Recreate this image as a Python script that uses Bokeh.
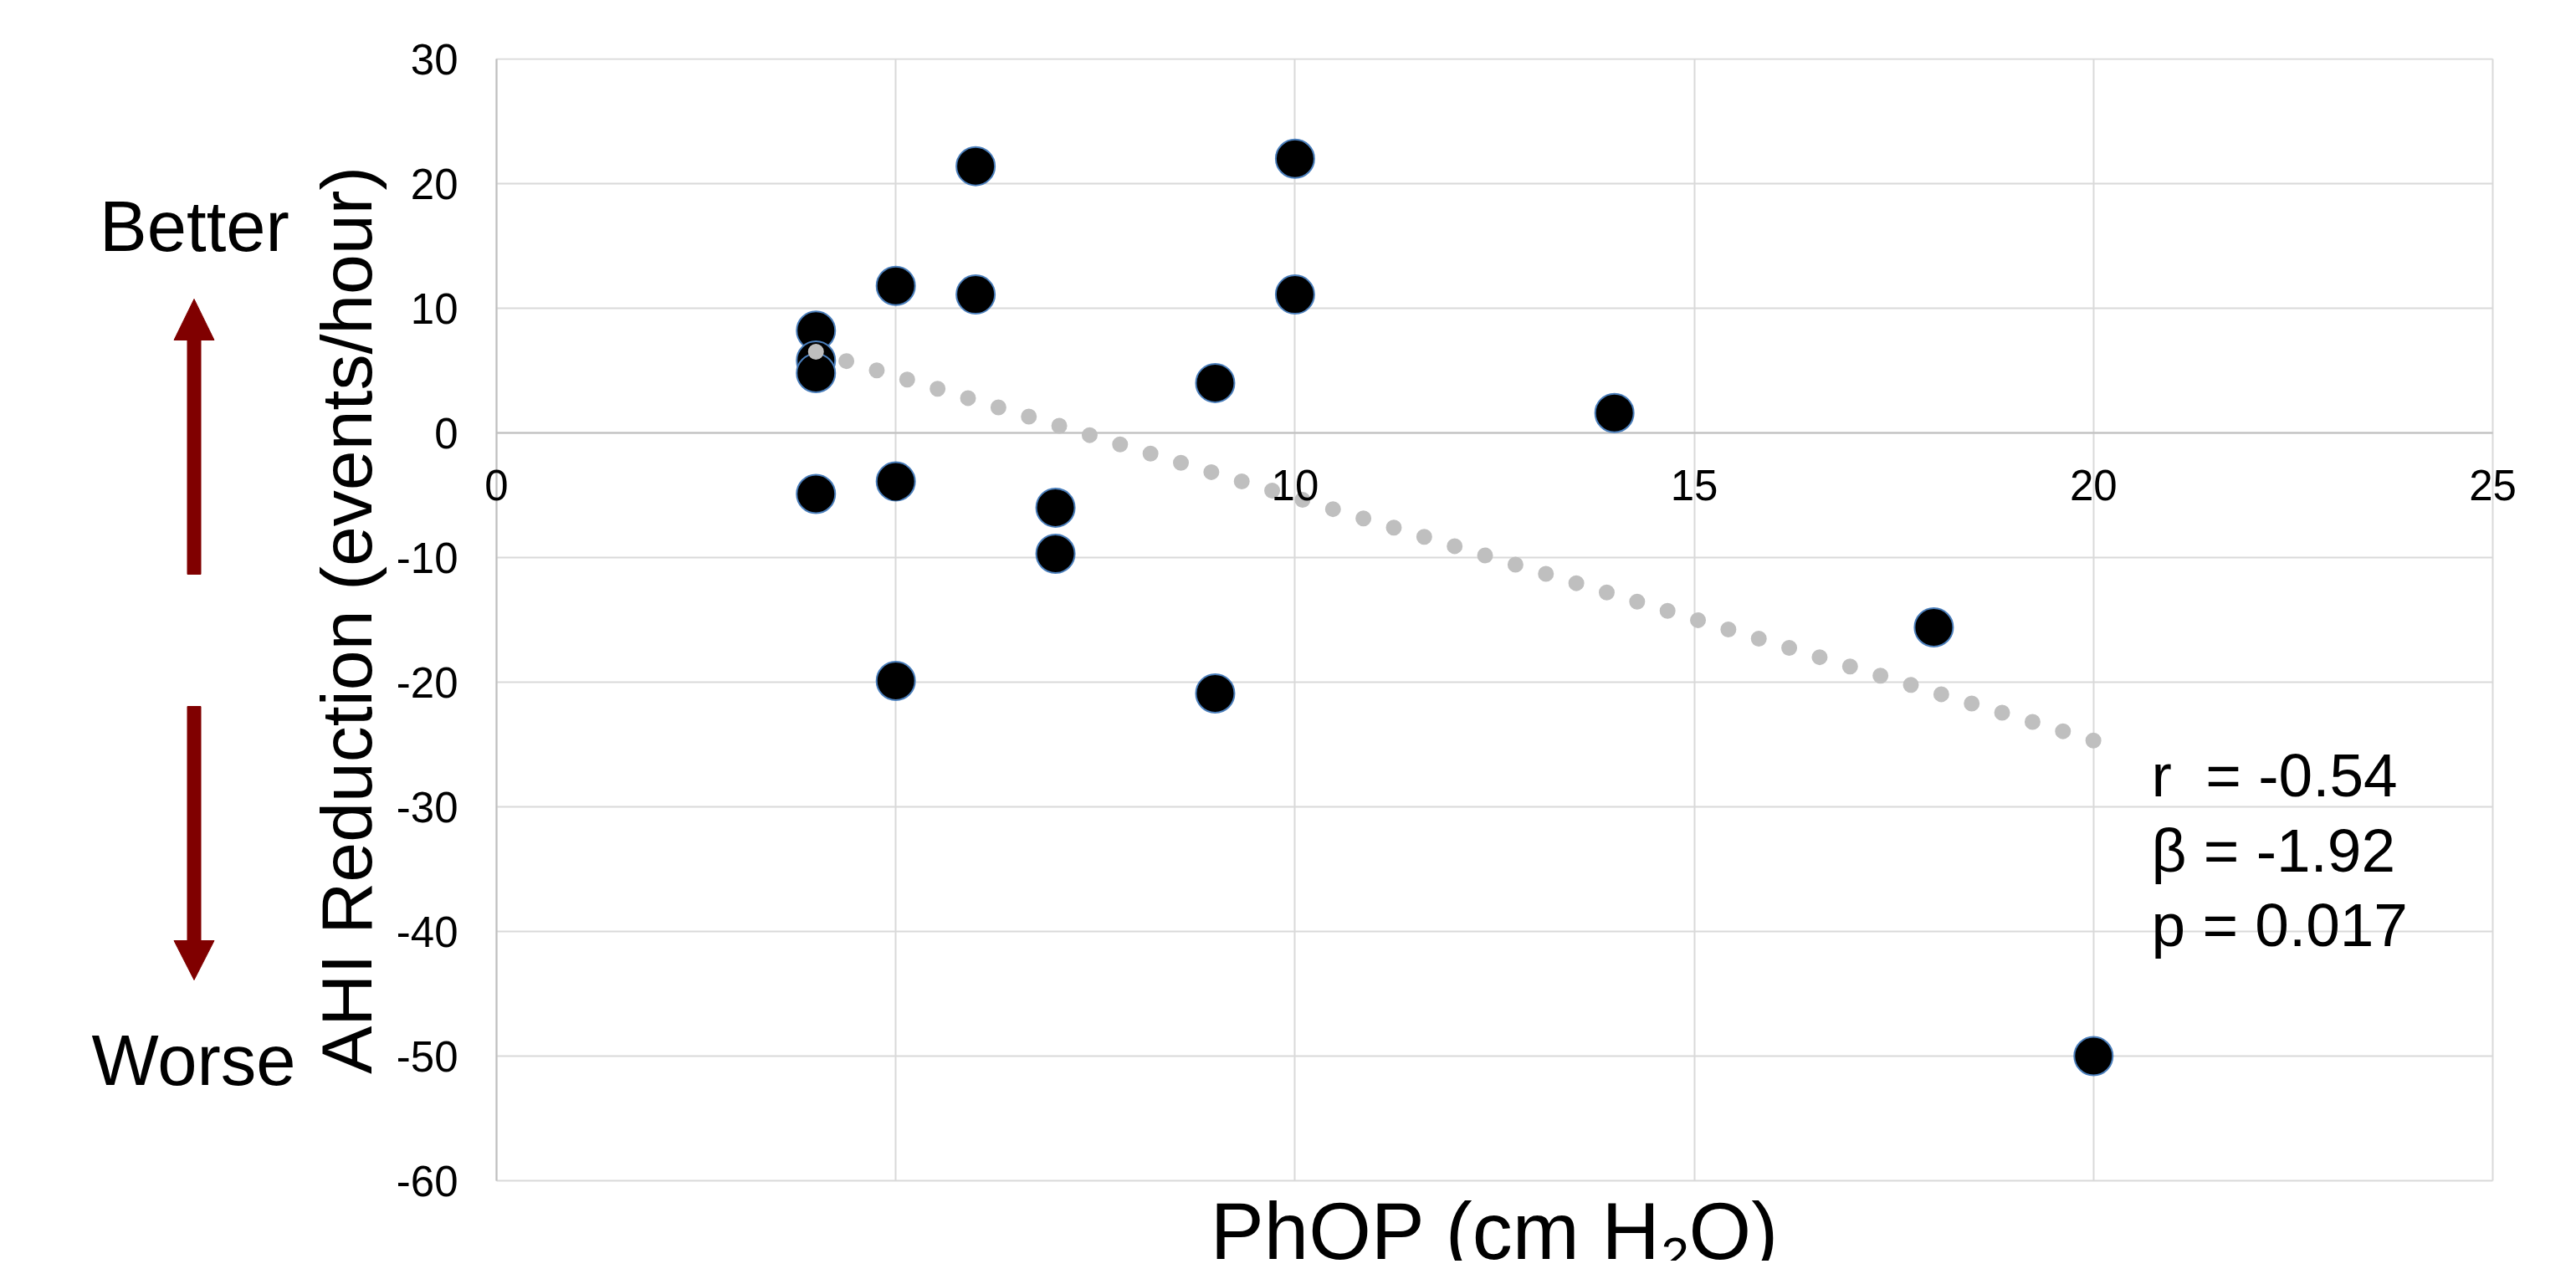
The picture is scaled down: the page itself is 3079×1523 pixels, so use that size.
import math
import numpy as np
from bokeh.plotting import figure
from bokeh.layouts import row
from bokeh.models import Range1d, FixedTicker, Label, Grid
from bokeh.embed import file_html
from bokeh.resources import INLINE

# ---- data ----
phop = [4, 4, 4, 4, 5, 5, 5, 6, 6, 7, 7, 9, 9, 10, 10, 14, 18, 20]
ahi_reduction = [8.2, 5.8, 4.8, -4.9, 11.8, -3.9, -19.9, 21.4, 11.1, -6.0, -9.7,
                 4.0, -20.9, 22.0, 11.1, 1.6, -15.6, -50.0]
x_ticks = [0, 5, 10, 15, 20, 25]
y_ticks = [-60, -50, -40, -30, -20, -10, 0, 10, 20, 30]
stats_lines = ["r \u00a0= -0.54", "\u03b2 = -1.92", "p = 0.017"]
y_title = "AHI Reduction (events/hour)"
x_title_parts = ["PhOP (cm H", "2", "O)"]
side_labels = ["Better", "Worse"]

FONT = "Liberation Sans"
GRID = "#D9D9D9"
AXIS = "#BFBFBF"
ARROW = "#800000"
MID = 0.365   # baseline lies this many em below a "middle"-anchored label

# page geometry in picture pixels
W, H = 3063, 1507
SPLIT_X = 467          # left strip (side labels, y title) | main chart
FL, FR, FT, FB = 593, 2979, 70, 1411   # where x=0, x=25, y=30, y=-60 fall
XMIN, XMAX, YMIN, YMAX = 0, 25, -60, 30


def X(px):
    return XMIN + (px - FL) / (FR - FL) * (XMAX - XMIN)


def Y(py):
    return YMAX - (py - FT) / (FB - FT) * (YMAX - YMIN)


def text_label(x, text, size, align="left", **kw):
    return dict(x=x, text=text, text_font=FONT, text_font_size=f"{size}px",
                text_color="black", text_align=align, text_baseline="middle", **kw)


# ---------------- main chart ----------------
MF_L, MF_R, MF_T, MF_B = 560, 3012, 69, H
p = figure(width=W - SPLIT_X, height=H,
           x_range=Range1d(X(MF_L), X(MF_R)), y_range=Range1d(Y(MF_B), Y(MF_T)),
           output_backend="svg", toolbar_location=None, title=None,
           x_axis_location=None,
           min_border_left=MF_L - SPLIT_X, min_border_right=W - MF_R,
           min_border_top=MF_T, min_border_bottom=0)
p.outline_line_color = None
p.background_fill_color = "white"
p.border_fill_color = "white"

p.xgrid.ticker = FixedTicker(ticks=x_ticks)
p.ygrid.ticker = FixedTicker(ticks=y_ticks)
p.ygrid.cross_bounds = (XMIN, XMAX)
p.xgrid.cross_bounds = (YMIN, YMAX)
for g in (p.xgrid, p.ygrid):
    g.grid_line_color = GRID
    g.grid_line_width = 2
# axis lines (x = 0 and y = 0)
p.add_layout(Grid(dimension=0, ticker=FixedTicker(ticks=[XMIN]), cross_bounds=(YMIN, YMAX),
                  grid_line_color=AXIS, grid_line_width=2))
p.add_layout(Grid(dimension=1, ticker=FixedTicker(ticks=[0]), cross_bounds=(XMIN, XMAX),
                  grid_line_color=AXIS, grid_line_width=2))

ya = p.yaxis[0]
ya.ticker = FixedTicker(ticks=y_ticks)
ya.major_label_overrides = {t: str(t) for t in y_ticks}
ya.axis_line_color = None
ya.major_tick_in = 0
ya.major_tick_out = 0
ya.minor_tick_line_color = None
ya.major_label_standoff = MF_L - 547
ya.major_label_text_font = FONT
ya.major_label_text_font_size = "51px"
ya.major_label_text_color = "black"

# x tick labels, just below the y = 0 line
for t in x_ticks:
    p.add_layout(Label(x=t, y=Y(579), text=str(t), text_font=FONT,
                       text_font_size="51px", text_color="black",
                       text_align="center", text_baseline="middle"))

# points
p.scatter(phop, ahi_reduction, size=46, fill_color="black",
          line_color="#4A7EBB", line_width=2)

# linear trend line (least squares on the data)
slope, intercept = np.polyfit(phop, ahi_reduction, 1)
tx = [min(phop), max(phop)]
ty = [intercept + slope * v for v in tx]
p.line(tx, ty, line_color=AXIS, line_width=19, line_dash="0 38", line_cap="round")

# stats text
for i, s in enumerate(stats_lines):
    base = 953 + i * 89.5
    p.add_layout(Label(y=Y(base - MID * 73), **text_label(X(2571), s, 73)))

# x axis title (with subscript)
p.add_layout(Label(y=Y(1506 - MID * 96), **text_label(X(1985), x_title_parts[0], 96, "right")))
p.add_layout(Label(y=Y(1522 - MID * 60), **text_label(X(1985), x_title_parts[1], 60)))
p.add_layout(Label(y=Y(1506 - MID * 96), **text_label(X(2018), x_title_parts[2], 96)))

# ---------------- left strip (same top border as the main chart) ----------------
left = figure(width=SPLIT_X, height=H, x_range=Range1d(0, SPLIT_X),
              y_range=Range1d(H, MF_T), output_backend="svg", toolbar_location=None,
              title=None, x_axis_location=None, y_axis_location=None,
              min_border_left=0, min_border_right=0, min_border_top=MF_T,
              min_border_bottom=0)
left.outline_line_color = None
left.background_fill_color = "white"
left.border_fill_color = "white"
left.xgrid.visible = False
left.ygrid.visible = False

left.add_layout(Label(x=445 - MID * 86, y=741, text=y_title, angle=math.pi / 2,
                      text_font=FONT, text_font_size="86px", text_color="black",
                      text_align="center", text_baseline="middle"))
left.add_layout(Label(y=301 - MID * 85, **text_label(232, side_labels[0], 85, "center")))
left.add_layout(Label(y=1298 - MID * 85, **text_label(231, side_labels[1], 85, "center")))


def arrow_shape(cx, y_tail, y_base, y_tip, shaft=8, head=24):
    xs = [cx - shaft, cx - shaft, cx - head, cx, cx + head, cx + shaft, cx + shaft]
    ys = [y_tail, y_base, y_base, y_tip, y_base, y_base, y_tail]
    return xs, ys


axs, ays = [], []
for (t, b, tip) in [(686, 406, 357), (844, 1124, 1171)]:
    a, b2 = arrow_shape(231.5, t, b, tip)
    axs.append(a)
    ays.append(b2)
left.patches(axs, ays, fill_color=ARROW, line_color=ARROW, line_width=1)

layout = row(left, p, spacing=0)
open("out.html", "w").write(file_html(layout, INLINE))
